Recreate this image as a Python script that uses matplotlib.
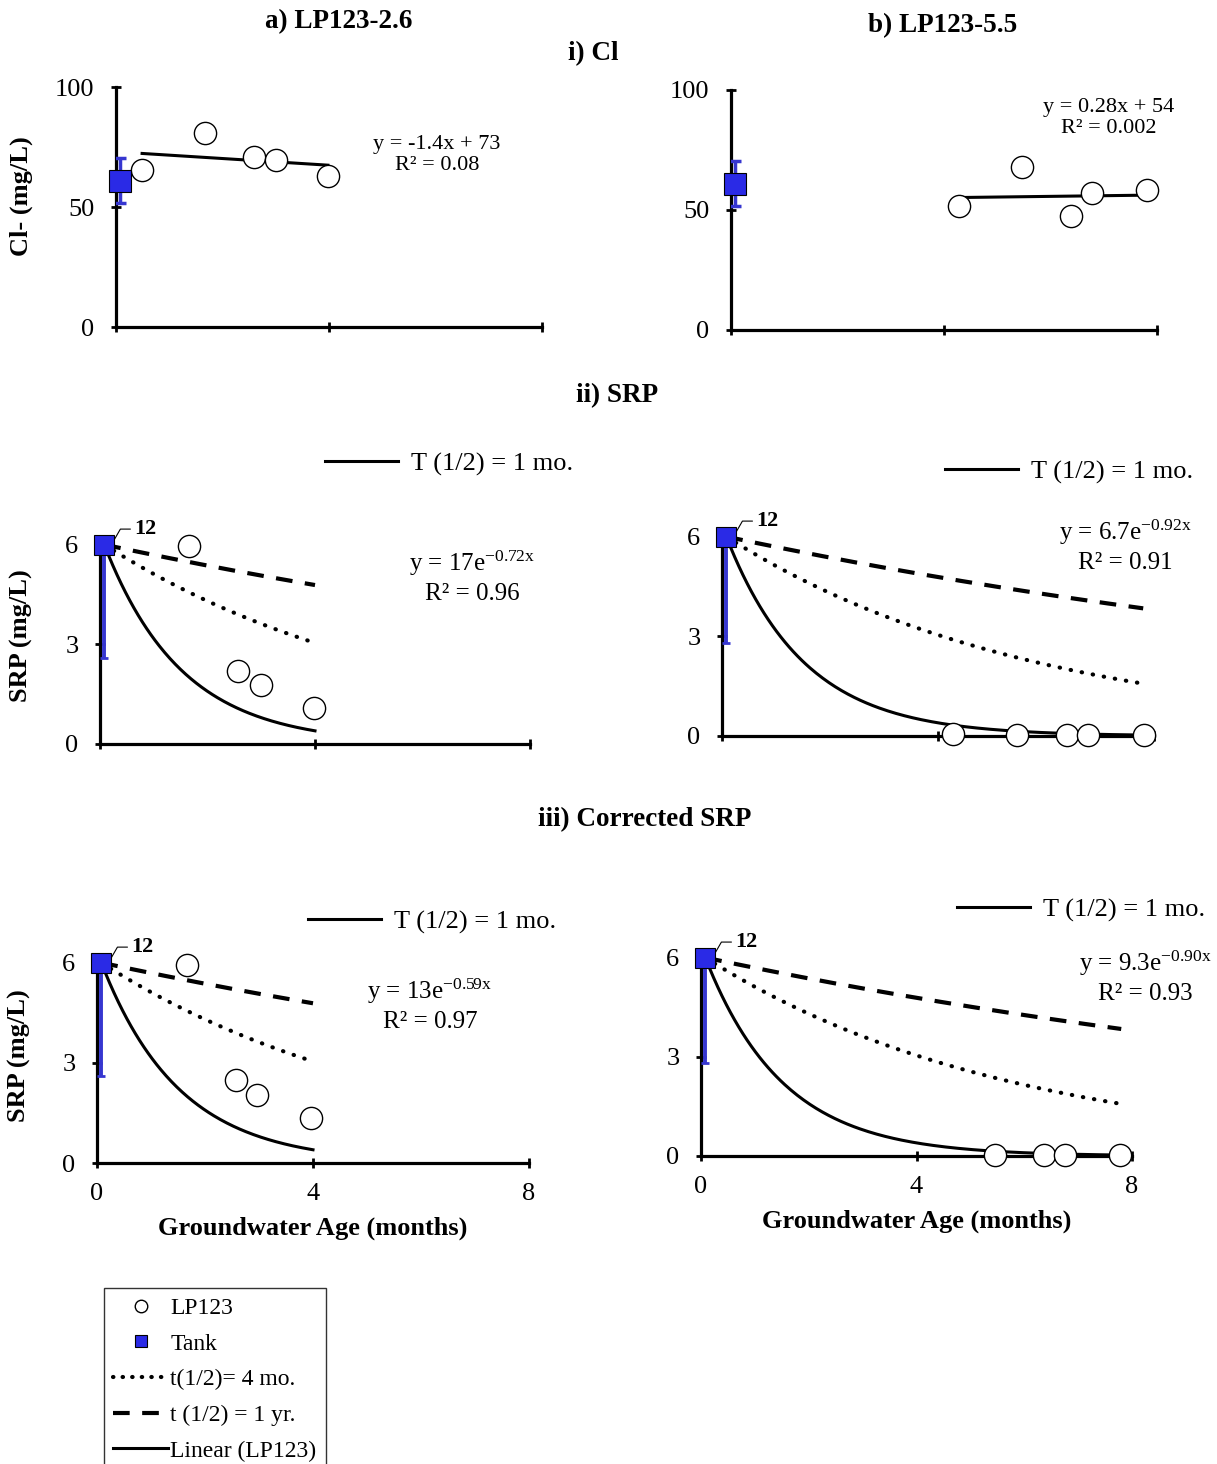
import numpy as np
import matplotlib
matplotlib.use("Agg")
import matplotlib.pyplot as plt
from matplotlib.lines import Line2D

plt.rcParams['font.family'] = ['Liberation Serif', 'DejaVu Serif']
plt.rcParams['mathtext.fontset'] = 'custom'
plt.rcParams['mathtext.rm'] = 'Liberation Serif'
plt.rcParams['mathtext.it'] = 'Liberation Serif'

# ---------------- data ----------------
tank_x = 0.08
tank_cl = 61.0
tank_cl_err = 9.5
tank_srp = 6.0
tank_srp_err_a = 3.4
tank_srp_err_b = 3.2
tank_label = "12"

a_x = [0.49, 1.67, 2.59, 3.0, 3.98]
a_cl = [65.4, 80.8, 70.8, 69.6, 62.9]
a_srp = [5.96, 2.2, 1.78, 1.08]
a_srp_x = [1.66, 2.57, 3.0, 3.98]
a_csrp = [5.94, 2.49, 2.04, 1.35]
a_csrp_x = [1.67, 2.57, 2.96, 3.96]

b_x = [4.28, 5.46, 6.38, 6.78, 7.81]
b_cl = [51.7, 67.9, 47.5, 57.1, 58.3]
b_srp = [0.05, 0.04, 0.04, 0.04, 0.03]
b_csrp_x = [5.46, 6.37, 6.76, 7.78]
b_csrp = [0.03, 0.03, 0.03, 0.02]

a_cl_fit = (-1.4, 73)
b_cl_fit = (0.28, 54)

half_lives = [1, 4, 12]   # months
c0 = 6.0
a_curve_end = 4.0
b_curve_end = 7.8

eq_a_cl = ["y = -1.4x + 73", "R² = 0.08"]
eq_b_cl = ["y = 0.28x + 54", "R² = 0.002"]
eq_a_srp = [r"y = 17e$^{\mathrm{-0.72x}}$", "R² = 0.96"]
eq_b_srp = [r"y = 6.7e$^{\mathrm{-0.92x}}$", "R² = 0.91"]
eq_a_csrp = [r"y = 13e$^{\mathrm{-0.59x}}$", "R² = 0.97"]
eq_b_csrp = [r"y = 9.3e$^{\mathrm{-0.90x}}$", "R² = 0.93"]

W, H = 1217, 1464
fig = plt.figure(figsize=(W/100, H/100), dpi=100)

def add_ax(l, r, b, t):
    return fig.add_axes([l/W, 1-b/H, (r-l)/W, (b-t)/H])

tank_col = '#2a2ae6'
err_col = '#3636d0'
FS = 19

def style(ax, ylim, yticks, xlabels=False):
    ax.set_xlim(0, 8)
    ax.set_ylim(*ylim)
    for s in ['top', 'right']:
        ax.spines[s].set_visible(False)
    for s in ['left', 'bottom']:
        ax.spines[s].set_linewidth(2.3)
    ax.set_xticks([0, 4, 8])
    ax.set_yticks(yticks)
    ax.tick_params(direction='inout', length=7, width=2, labelsize=FS)
    ax.tick_params(axis='y', pad=12)
    ax.tick_params(axis='x', pad=11)
    if not xlabels:
        ax.set_xticklabels([])
    ax.patch.set_alpha(0)

def circles(ax, x, y):
    ax.plot(x, y, 'o', ms=16, mfc='white', mec='black', mew=1.0, zorder=5, clip_on=False)

def tank(ax, y, err_lo, err_hi):
    ax.errorbar([tank_x], [y], yerr=[[err_lo], [err_hi]], fmt='none', ecolor=err_col,
                elinewidth=2.5, capsize=4, capthick=2.5, zorder=3)
    ax.plot([tank_x], [y], 's', ms=16, mfc=tank_col, mec='black', mew=0.8, zorder=6, clip_on=False)

def cl_panel(ax, x, y, fit, eq, eqpos):
    style(ax, (0, 100), [0, 50, 100])
    tank(ax, tank_cl, tank_cl_err, tank_cl_err)
    xs = np.array([min(x), max(x)])
    ax.plot(xs, fit[0]*xs + fit[1], color='black', lw=2.2, zorder=4)
    circles(ax, x, y)
    ax.text(eqpos[0], eqpos[1], eq[0] + "\n" + eq[1], transform=fig.transFigure,
            ha='center', va='center', fontsize=16, linespacing=1.2)

def srp_panel(ax, x, y, xend, eq, eqpos, xlabels, err):
    style(ax, (0, 6.2), [0, 3, 6], xlabels)
    ax.errorbar([tank_x], [tank_srp], yerr=[[err], [0]], fmt='none', ecolor=err_col,
                elinewidth=2.8, capsize=3, capthick=2, zorder=3)
    ax.plot([tank_x], [tank_srp], 's', ms=15, mfc=tank_col, mec='black', mew=0.8,
            zorder=6, clip_on=False)
    xs = np.linspace(0.08, xend, 200)
    sol, = ax.plot(xs, c0*0.5**((xs-0.08)/half_lives[0]), color='black', lw=2.2, zorder=4)
    ax.plot(xs, c0*0.5**((xs-0.08)/half_lives[1]), color='black', lw=3, ls=(0, (0.1, 2.6)),
            dash_capstyle='round', zorder=4)
    ax.plot(xs, c0*0.5**((xs-0.08)/half_lives[2]), color='black', lw=3, ls=(0, (4, 3)), zorder=4)
    circles(ax, x, y)
    ax.annotate(tank_label, xy=(tank_x + 0.15, tank_srp + 0.05), xytext=(16, 10),
                textcoords='offset points', fontsize=16, fontweight='bold',
                ha='left', va='center',
                arrowprops=dict(arrowstyle='-', lw=0.8, color='black',
                                connectionstyle='angle,angleA=0,angleB=60,rad=0',
                                shrinkA=1, shrinkB=0))
    ax.text(eqpos[0]/W, 1-eqpos[1]/H, eq[0], transform=fig.transFigure,
            ha='center', va='center', fontsize=18)
    ax.text(eqpos[0]/W, 1-(eqpos[1]+31)/H, eq[1], transform=fig.transFigure,
            ha='center', va='center', fontsize=18)
    return sol

def top_legend(handle, x, y):
    fig.legend([handle], ["T (1/2) = 1 mo."], loc='center left',
               bbox_to_anchor=(x/W, 1-y/H), frameon=False, fontsize=19,
               handlelength=2.75, handletextpad=0.5, borderpad=0, borderaxespad=0)

# ---- Cl panels
ax1 = add_ax(116, 542, 327, 87)
cl_panel(ax1, a_x, a_cl, a_cl_fit, eq_a_cl, (437/W, 1-155/H))
ax1.set_ylabel("Cl- (mg/L)", fontsize=19, fontweight='bold')
ax1.yaxis.set_label_coords(-0.195, 0.546)

ax2 = add_ax(731, 1157, 330, 90)
cl_panel(ax2, b_x, b_cl, b_cl_fit, eq_b_cl, (1109/W, 1-118/H))

# ---- SRP panels
ax3 = add_ax(100, 530, 744, 538)
h = srp_panel(ax3, a_srp_x, a_srp, a_curve_end, eq_a_srp, (472, 563), False, tank_srp_err_a)
ax3.set_ylabel("SRP (mg/L)", fontsize=19, fontweight='bold')
ax3.yaxis.set_label_coords(-0.156, 0.524)
top_legend(h, 325, 464)

ax4 = add_ax(722, 1154, 736, 530)
h = srp_panel(ax4, b_x, b_srp, b_curve_end, eq_b_srp, (1125, 532), False, tank_srp_err_b)
top_legend(h, 945, 472)

# ---- Corrected SRP panels
ax5 = add_ax(97, 529, 1163, 956)
h = srp_panel(ax5, a_csrp_x, a_csrp, a_curve_end, eq_a_csrp, (430, 991), True, tank_srp_err_a)
ax5.set_ylabel("SRP (mg/L)", fontsize=19, fontweight='bold')
ax5.yaxis.set_label_coords(-0.153, 0.52)
ax5.set_xlabel("Groundwater Age (months)", fontsize=19, fontweight='bold', labelpad=8)
top_legend(h, 308, 922)

ax6 = add_ax(701, 1132, 1156, 951)
h = srp_panel(ax6, b_csrp_x, b_csrp, b_curve_end, eq_b_csrp, (1145, 963), True, tank_srp_err_b)
ax6.set_xlabel("Groundwater Age (months)", fontsize=19, fontweight='bold', labelpad=8)
top_legend(h, 957, 910)

# ---- titles
def ftext(x, y, s, fs=19.5):
    fig.text(x/W, 1-y/H, s, ha='center', va='center', fontsize=fs, fontweight='bold')

ftext(339, 22, "a) LP123-2.6")
ftext(943, 26, "b) LP123-5.5")
ftext(593, 54, "i) Cl")
ftext(617, 396, "ii) SRP")
ftext(645, 820, "iii) Corrected SRP")

# ---- bottom legend
handles = [
    Line2D([], [], ls='none', marker='o', ms=9, mfc='white', mec='black', mew=1),
    Line2D([], [], ls='none', marker='s', ms=9, mfc=tank_col, mec='black', mew=0.8),
    Line2D([], [], color='black', lw=3, ls=(0, (0.1, 2.2)), dash_capstyle='round'),
    Line2D([], [], color='black', lw=3, ls=(0, (4, 3))),
    Line2D([], [], color='black', lw=2.2),
]
labels = ["LP123", "Tank", "t(1/2)= 4 mo.", "t (1/2) = 1 yr.", "Linear (LP123)"]
leg = fig.legend(handles, labels, loc='upper left', bbox_to_anchor=(104/W, 1-1288/H),
                 fontsize=17, frameon=True, fancybox=False, edgecolor='black',
                 handlelength=2.3, handletextpad=0.1, labelspacing=0.6,
                 borderpad=0.4, borderaxespad=0)
leg.get_frame().set_linewidth(1.0)

fig.savefig("out.png", dpi=100)
